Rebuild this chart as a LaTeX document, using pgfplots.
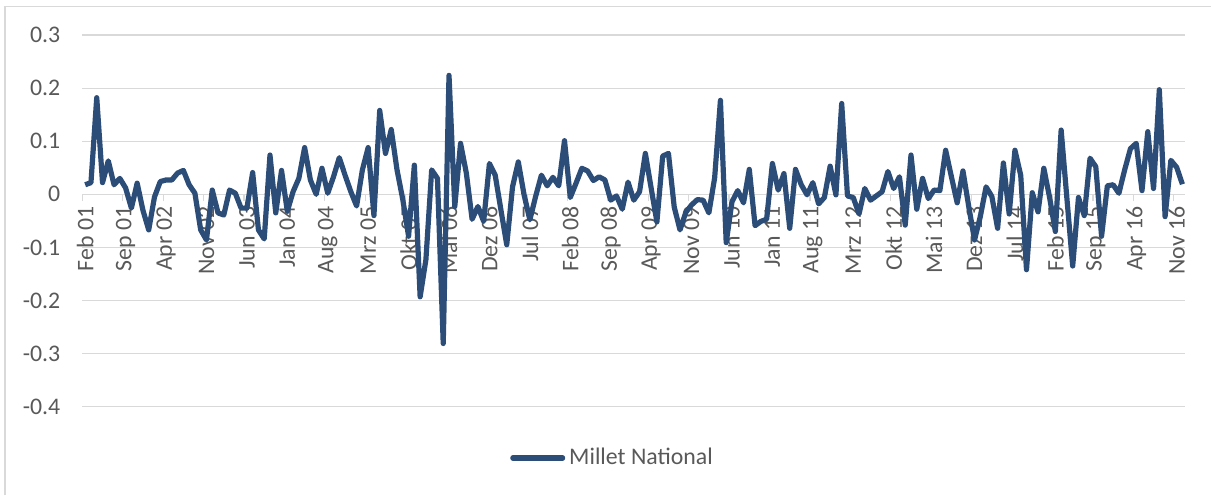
\documentclass[border=0pt]{standalone}
\usepackage{fontspec}
\setmainfont{Carlito}
\usepackage{pgfplots}
\pgfplotsset{compat=1.18}
\definecolor{seriesblue}{RGB}{44,77,120}
\definecolor{txtgray}{RGB}{89,89,89}
\definecolor{gridgray}{RGB}{217,217,217}
\begin{document}
\begin{tikzpicture}
\useasboundingbox (0,0) rectangle (605.5pt,247.5pt);
\draw[gridgray, line width=0.6pt] (2.5pt,0pt) -- (2.5pt,244.2pt) -- (605.5pt,244.2pt);
\begin{axis}[
  at={(41.15pt,44.15pt)}, anchor=south west,
  scale only axis, width=551.5pt, height=185.85pt,
  xmin=-0.5, xmax=190.5, ymin=-0.4, ymax=0.3,
  axis x line=middle, axis y line=left,
  x axis line style={-, gridgray, line width=0.6pt},
  y axis line style={draw=none},
  hide obscured x ticks=false, hide obscured y ticks=false,
  font=\fontsize{11.9}{14}\selectfont,
  ytick={-0.4,-0.3,-0.2,-0.1,0,0.1,0.2,0.3},
  yticklabels={-0.4,-0.3,-0.2,-0.1,0,0.1,0.2,0.3},
  yticklabel style={text=txtgray, xshift=-7.5pt},
  ymajorgrids, grid style={gridgray, line width=0.6pt},
  major tick length=0pt,
  xtick={0,7,...,189},
  xticklabels={Feb 01,Sep 01,Apr 02,Nov 02,Jun 03,Jan 04,Aug 04,Mrz 05,Okt 05,Mai 06,Dez 06,Jul 07,Feb 08,Sep 08,Apr 09,Nov 09,Jun 10,Jan 11,Aug 11,Mrz 12,Okt 12,Mai 13,Dez 13,Jul 14,Feb 15,Sep 15,Apr 16,Nov 16},
  xticklabel style={text=txtgray, yshift=-6pt, rotate=90, anchor=east, inner sep=0pt},
  minor xtick={-0.5,6.5,...,188.5},
  minor tick length=3.5pt,
  tick align=outside,
  minor tick style={gridgray, line width=0.6pt},
  legend style={at={(0.4816,-0.138)}, anchor=center, draw=none, fill=none,
    text=txtgray, font=\fontsize{11.9}{14}\selectfont},
  legend image code/.code={\draw[#1, line cap=round] (0pt,0pt) -- (24.9pt,0pt);},
]
\addplot[seriesblue, line width=2.6pt, line join=round] coordinates {
(0,0.018) (1,0.022) (2,0.182) (3,0.022) (4,0.063) (5,0.018) (6,0.030) (7,0.012) (8,-0.026) (9,0.021)
(10,-0.030) (11,-0.067) (12,-0.005) (13,0.024) (14,0.027) (15,0.027) (16,0.040) (17,0.045) (18,0.018) (19,0.002)
(20,-0.067) (21,-0.086) (22,0.008) (23,-0.035) (24,-0.039) (25,0.008) (26,0.002) (27,-0.026) (28,-0.026) (29,0.041)
(30,-0.067) (31,-0.084) (32,0.074) (33,-0.035) (34,0.045) (35,-0.032) (36,0.005) (37,0.030) (38,0.088) (39,0.027)
(40,0.000) (41,0.049) (42,0.002) (43,0.033) (44,0.069) (45,0.036) (46,0.005) (47,-0.022) (48,0.046) (49,0.088)
(50,-0.040) (51,0.158) (52,0.077) (53,0.122) (54,0.046) (55,-0.010) (56,-0.079) (57,0.055) (58,-0.193) (59,-0.123)
(60,0.046) (61,0.030) (62,-0.281) (63,0.224) (64,-0.023) (65,0.096) (66,0.040) (67,-0.047) (68,-0.023) (69,-0.051)
(70,0.058) (71,0.036) (72,-0.030) (73,-0.095) (74,0.014) (75,0.061) (76,-0.001) (77,-0.048) (78,-0.004) (79,0.036)
(80,0.016) (81,0.032) (82,0.016) (83,0.101) (84,-0.006) (85,0.021) (86,0.049) (87,0.044) (88,0.026) (89,0.033)
(90,0.027) (91,-0.011) (92,-0.003) (93,-0.028) (94,0.023) (95,-0.011) (96,0.005) (97,0.077) (98,0.012) (99,-0.052)
(100,0.072) (101,0.077) (102,-0.024) (103,-0.067) (104,-0.034) (105,-0.020) (106,-0.010) (107,-0.011) (108,-0.035) (109,0.031)
(110,0.177) (111,-0.091) (112,-0.014) (113,0.007) (114,-0.016) (115,0.047) (116,-0.059) (117,-0.051) (118,-0.047) (119,0.058)
(120,0.008) (121,0.039) (122,-0.064) (123,0.047) (124,0.018) (125,-0.001) (126,0.022) (127,-0.018) (128,-0.006) (129,0.053)
(130,-0.001) (131,0.171) (132,-0.003) (133,-0.006) (134,-0.037) (135,0.011) (136,-0.011) (137,-0.003) (138,0.005) (139,0.043)
(140,0.011) (141,0.033) (142,-0.058) (143,0.074) (144,-0.028) (145,0.030) (146,-0.008) (147,0.008) (148,0.007) (149,0.083)
(150,0.033) (151,-0.016) (152,0.044) (153,-0.023) (154,-0.086) (155,-0.042) (156,0.014) (157,-0.004) (158,-0.064) (159,0.059)
(160,-0.037) (161,0.083) (162,0.036) (163,-0.142) (164,0.003) (165,-0.033) (166,0.049) (167,-0.006) (168,-0.070) (169,0.121)
(170,-0.008) (171,-0.135) (172,-0.006) (173,-0.040) (174,0.068) (175,0.052) (176,-0.079) (177,0.016) (178,0.018) (179,0.002)
(180,0.046) (181,0.086) (182,0.096) (183,0.007) (184,0.118) (185,0.011) (186,0.197) (187,-0.042) (188,0.064) (189,0.051)
(190,0.019)
};
\addlegendentry{Millet National}
\end{axis}
\end{tikzpicture}
\end{document}
